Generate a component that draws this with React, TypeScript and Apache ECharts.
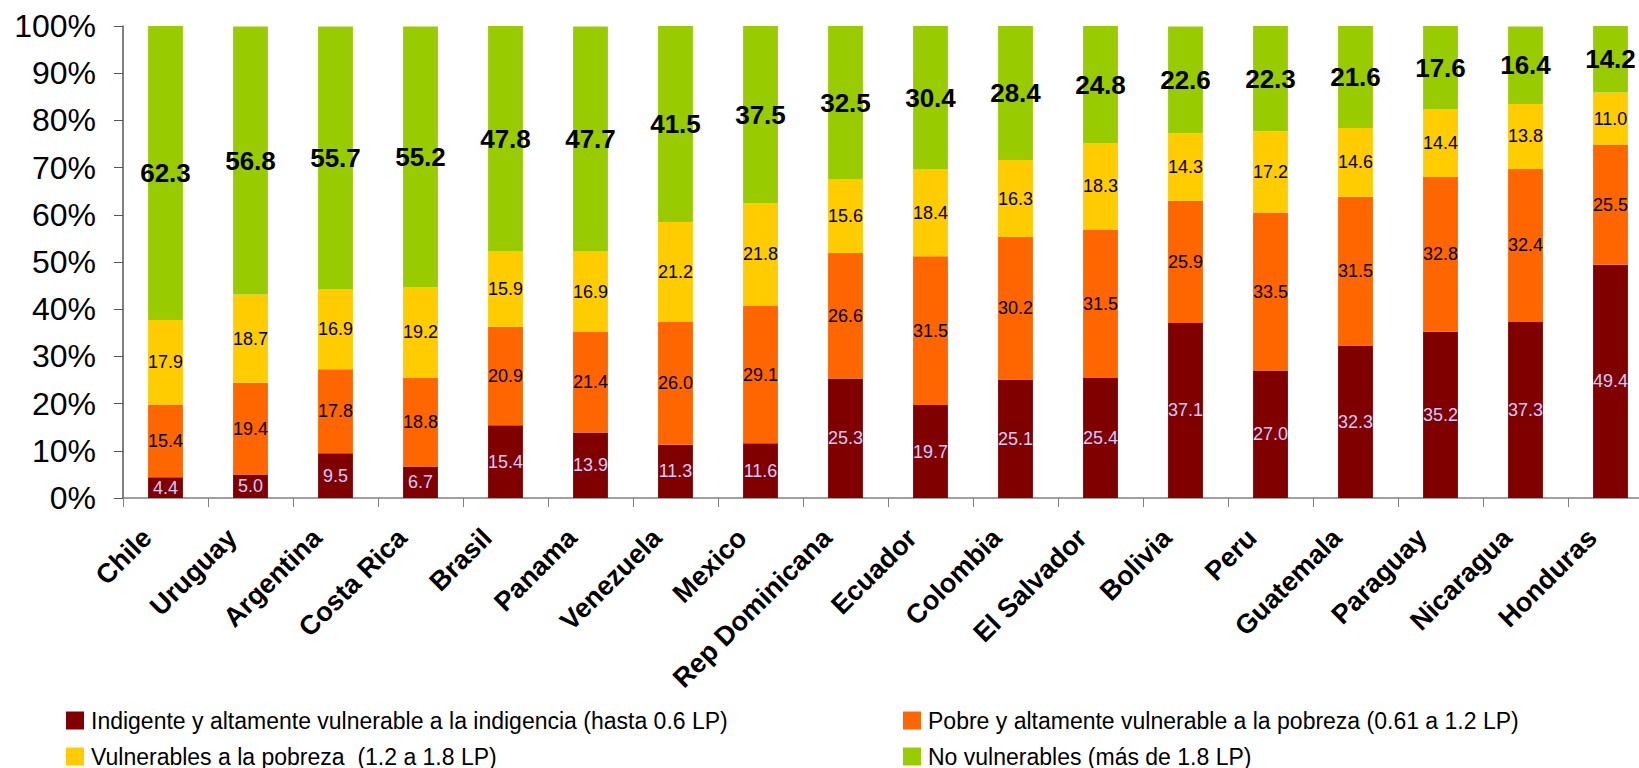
import React, { useEffect, useRef } from "react";
import * as echarts from "echarts";

const countries = [
  "Chile", "Uruguay", "Argentina", "Costa Rica", "Brasil", "Panama", "Venezuela", "Mexico",
  "Rep Dominicana", "Ecuador", "Colombia", "El Salvador", "Bolivia", "Peru", "Guatemala",
  "Paraguay", "Nicaragua", "Honduras",
];
const indigente = [4.4, 5.0, 9.5, 6.7, 15.4, 13.9, 11.3, 11.6, 25.3, 19.7, 25.1, 25.4, 37.1, 27.0, 32.3, 35.2, 37.3, 49.4];
const pobre = [15.4, 19.4, 17.8, 18.8, 20.9, 21.4, 26.0, 29.1, 26.6, 31.5, 30.2, 31.5, 25.9, 33.5, 31.5, 32.8, 32.4, 25.5];
const vulnerables = [17.9, 18.7, 16.9, 19.2, 15.9, 16.9, 21.2, 21.8, 15.6, 18.4, 16.3, 18.3, 14.3, 17.2, 14.6, 14.4, 13.8, 11.0];
const noVulnerables = [62.3, 56.8, 55.7, 55.2, 47.8, 47.7, 41.5, 37.5, 32.5, 30.4, 28.4, 24.8, 22.6, 22.3, 21.6, 17.6, 16.4, 14.2];

const seriesNames = [
  "Indigente y altamente vulnerable a la indigencia (hasta 0.6 LP)",
  "Pobre y altamente vulnerable a la pobreza (0.61 a 1.2 LP)",
  "Vulnerables a la pobreza  (1.2 a 1.8 LP)",
  "No vulnerables (más de 1.8 LP)",
];
const yTicks = [0, 10, 20, 30, 40, 50, 60, 70, 80, 90, 100];

const FONT = "'Liberation Sans', Arial, sans-serif";

export default function App() {
  const ref = useRef<HTMLDivElement>(null);
  useEffect(() => {
    if (!ref.current) return;
    const chart = echarts.init(ref.current, null, { renderer: "svg" });
    const colors = ["#800000", "#FF6600", "#FFCC00", "#99CC00"];
    const datasets = [indigente, pobre, vulnerables, noVulnerables];
    const labelStyles = [
      { color: "#CCCCFF", fontSize: 18, fontWeight: "normal" },
      { color: "#000", fontSize: 18, fontWeight: "normal" },
      { color: "#000", fontSize: 18, fontWeight: "normal" },
      { color: "#000", fontSize: 26, fontWeight: "bold" },
    ];
    const legendPos = [
      { left: 66, top: 709 },
      { left: 903, top: 709 },
      { left: 66, top: 745 },
      { left: 903, top: 745 },
    ];
    chart.setOption({
      animation: false,
      textStyle: { fontFamily: FONT },
      grid: { left: 123, right: 17, top: 26, bottom: 270, containLabel: false },
      legend: seriesNames.map((n, i) => ({
        data: [n],
        left: legendPos[i].left,
        top: legendPos[i].top,
        itemWidth: 18,
        itemHeight: 18,
        itemGap: 0,
        padding: 0,
        icon: "rect",
        textStyle: { fontSize: 23, lineHeight: 22, color: "#000", fontFamily: FONT, padding: [0, 0, 0, 2] },
      })),
      xAxis: {
        type: "category",
        data: countries,
        axisLine: { lineStyle: { color: "#808080", width: 1.5 } },
        axisTick: { show: true, alignWithLabel: false, length: 9, lineStyle: { color: "#808080" } },
        axisLabel: {
          interval: 0,
          rotate: 45,
          margin: 17,
          padding: [0, 26, 0, 0],
          fontSize: 27,
          fontWeight: "bold",
          color: "#000",
          fontFamily: FONT,
        },
      },
      yAxis: {
        type: "value",
        min: yTicks[0],
        max: yTicks[yTicks.length - 1],
        interval: 10,
        axisLine: { show: true, lineStyle: { color: "#555", width: 1.5 } },
        axisTick: { show: true, length: 9, lineStyle: { color: "#555" } },
        splitLine: { show: false },
        axisLabel: { formatter: "{value}%", fontSize: 32, color: "#000", margin: 27, fontFamily: FONT },
      },
      series: datasets.map((d, i) => ({
        name: seriesNames[i],
        type: "bar",
        stack: "total",
        barWidth: "41%",
        data: d,
        itemStyle: { color: colors[i] },
        label: {
          show: true,
          position: "inside",
          formatter: (p: any) => Number(p.value).toFixed(1),
          fontFamily: FONT,
          ...labelStyles[i],
        },
      })),
    });
    return () => chart.dispose();
  }, []);
  return (
    <div style={{ position: "absolute", left: 0, top: 0, width: 1639, height: 768, overflow: "hidden", background: "#fff" }}>
      <div ref={ref} style={{ width: 1670, height: 768 }} />
    </div>
  );
}
